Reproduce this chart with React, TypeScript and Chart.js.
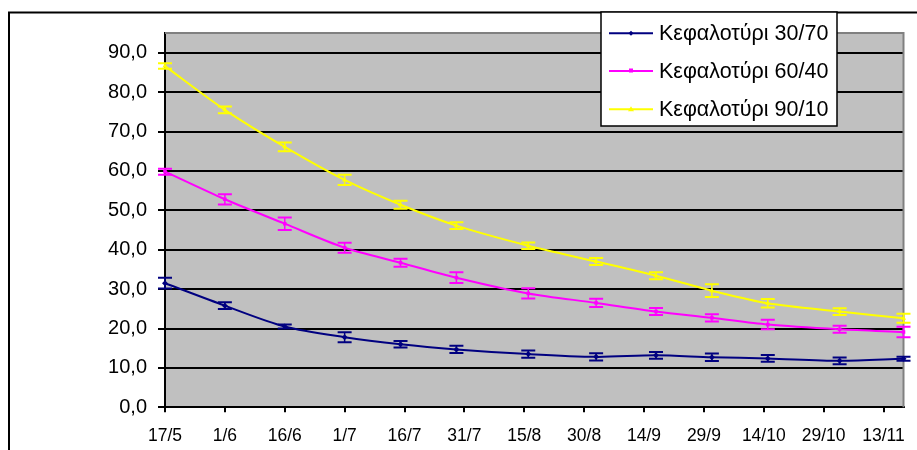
import React, { useEffect, useRef } from "react";
import { Chart, registerables } from "chart.js";

Chart.register(...registerables);

// ---- data ----
const seriesNames = ["Κεφαλοτύρι 30/70", "Κεφαλοτύρι 60/40", "Κεφαλοτύρι 90/10"];
// days elapsed since 17/5 for each sample
const sampleDays = [0, 15, 30, 45, 59, 73, 91, 108, 123, 137, 151, 169, 185];
const tickDays = [0, 15, 30, 45, 60, 75, 90, 105, 120, 135, 150, 165, 180];
const tickLabels = ["17/5", "1/6", "16/6", "1/7", "16/7", "31/7", "15/8", "30/8", "14/9", "29/9", "14/10", "29/10", "13/11"];
const yTickValues = [0, 10, 20, 30, 40, 50, 60, 70, 80, 90];

const values3070 = [31.5, 25.8, 20.5, 17.8, 16.0, 14.7, 13.5, 12.8, 13.2, 12.7, 12.4, 11.8, 12.3];
const values6040 = [59.8, 52.8, 46.6, 40.5, 36.7, 32.9, 28.9, 26.5, 24.3, 22.7, 21.0, 19.8, 19.1];
const values9010 = [86.6, 75.5, 66.1, 57.7, 51.4, 46.1, 41.0, 37.0, 33.4, 29.6, 26.4, 24.3, 22.6];

const err3070 = [1.35, 0.85, 0.5, 1.27, 0.85, 0.9, 0.9, 0.9, 0.85, 0.93, 0.85, 0.85, 0.5];
const err6040 = [0.75, 1.3, 1.6, 1.27, 1.0, 1.35, 1.3, 1.05, 0.9, 0.9, 1.2, 0.9, 1.35];
const err9010 = [0.7, 0.85, 1.1, 1.3, 1.0, 0.85, 0.8, 0.9, 0.9, 1.6, 1.1, 0.85, 1.15];

const colors = ["#000080", "#FF00FF", "#FFFF00"];
const pointStyles = ["rectRot", "rect", "triangle"];
const allValues = [values3070, values6040, values9010];
const allErrors = [err3070, err6040, err9010];

const FONT = "'Liberation Sans', Arial, sans-serif";

const errorBarPlugin = {
  id: "errorBars",
  afterDatasetsDraw(chart: any) {
    const ctx = chart.ctx;
    const yScale = chart.scales.y;
    chart.data.datasets.forEach((ds: any, i: number) => {
      const meta = chart.getDatasetMeta(i);
      const errs = allErrors[i];
      ctx.save();
      ctx.strokeStyle = ds.borderColor;
      meta.data.forEach((pt: any, j: number) => {
        const v = ds.data[j].y;
        const e = errs[j];
        const x = pt.x;
        const yt = yScale.getPixelForValue(v + e);
        const yb = yScale.getPixelForValue(v - e);
        ctx.lineWidth = 1.5;
        ctx.beginPath();
        ctx.moveTo(x, yt);
        ctx.lineTo(x, yb);
        ctx.stroke();
        ctx.lineWidth = 2;
        ctx.beginPath();
        ctx.moveTo(x - 7, yt);
        ctx.lineTo(x + 7, yt);
        ctx.moveTo(x - 7, yb);
        ctx.lineTo(x + 7, yb);
        ctx.stroke();
      });
      ctx.restore();
    });
  },
};

const backgroundPlugin = {
  id: "plotBackground",
  beforeDraw(chart: any) {
    const { ctx, chartArea: a } = chart;
    ctx.save();
    ctx.fillStyle = "#ffffff";
    ctx.fillRect(0, 0, chart.width, chart.height);
    ctx.fillStyle = "#C0C0C0";
    ctx.fillRect(a.left, a.top, a.right - a.left, a.bottom - a.top);
    ctx.restore();
  },
  beforeDatasetsDraw(chart: any) {
    const { ctx, chartArea: a } = chart;
    ctx.save();
    ctx.strokeStyle = "#808080";
    ctx.lineWidth = 2;
    ctx.beginPath();
    ctx.moveTo(a.left, a.top);
    ctx.lineTo(a.right, a.top);
    ctx.lineTo(a.right, a.bottom);
    ctx.stroke();
    ctx.restore();
  },
  afterDraw(chart: any) {
    const ctx = chart.ctx;
    ctx.save();
    // outer chart border
    ctx.strokeStyle = "#000";
    ctx.lineWidth = 2;
    ctx.beginPath();
    ctx.moveTo(9, chart.height + 2);
    ctx.lineTo(9, 12.5);
    ctx.lineTo(chart.width + 2, 12.5);
    ctx.stroke();

    // legend
    const lx = 601, ly = 12, lw = 236, lh = 114;
    ctx.fillStyle = "#fff";
    ctx.fillRect(lx, ly, lw, lh);
    ctx.lineWidth = 1.5;
    ctx.strokeStyle = "#000";
    ctx.strokeRect(lx, ly, lw, lh);
    const rows = [33.3, 71, 109.3];
    chart.data.datasets.forEach((ds: any, i: number) => {
      const y = rows[i];
      ctx.strokeStyle = ds.borderColor;
      ctx.lineWidth = 2;
      ctx.beginPath();
      ctx.moveTo(609, y);
      ctx.lineTo(653, y);
      ctx.stroke();
      ctx.fillStyle = ds.borderColor;
      if (i === 0) {
        ctx.beginPath();
        ctx.moveTo(631, y - 2.5);
        ctx.lineTo(633.5, y);
        ctx.lineTo(631, y + 2.5);
        ctx.lineTo(628.5, y);
        ctx.closePath();
        ctx.fill();
      } else if (i === 1) {
        ctx.fillRect(629, y - 2.5, 4, 4);
      } else {
        ctx.beginPath();
        ctx.moveTo(631, y - 3);
        ctx.lineTo(634, y + 2);
        ctx.lineTo(628, y + 2);
        ctx.closePath();
        ctx.fill();
      }
      ctx.fillStyle = "#000";
      ctx.font = `21.5px ${FONT}`;
      ctx.textBaseline = "middle";
      ctx.textAlign = "left";
      ctx.fillText(ds.label, 659, y + 1);
    });
    ctx.restore();
  },
};

export default function App() {
  const canvasRef = useRef<HTMLCanvasElement | null>(null);

  useEffect(() => {
    const canvas = canvasRef.current;
    if (!canvas) return;
    const datasets = seriesNames.map((name, i) => ({
      label: name,
      data: sampleDays.map((d, j) => ({ x: d, y: allValues[i][j] })),
      borderColor: colors[i],
      backgroundColor: colors[i],
      borderWidth: 2,
      pointStyle: pointStyles[i] as any,
      pointRadius: i === 1 ? 2.5 : 3,
      pointBorderWidth: 0,
      tension: 0.3,
      fill: false,
      clip: false as any,
    }));

    const chart = new Chart(canvas, {
      type: "line",
      data: { datasets },
      plugins: [backgroundPlugin, errorBarPlugin],
      options: {
        animation: false,
        responsive: false,
        devicePixelRatio: 1,
        layout: { padding: { top: 33, right: 13.5, left: 0, bottom: 0 } },
        plugins: {
          legend: { display: false },
          tooltip: { enabled: false },
        },
        scales: {
          x: {
            type: "linear",
            min: 0,
            max: 185,
            afterBuildTicks: (scale: any) => {
              scale.ticks = tickDays.map((v) => ({ value: v }));
            },
            afterFit: (scale: any) => {
              scale.height = 42.7;
              scale.paddingLeft = 0;
              scale.paddingRight = 0;
            },
            grid: {
              drawOnChartArea: false,
              drawTicks: true,
              tickLength: 5,
              color: "#000",
              lineWidth: 2,
            },
            border: { display: true, color: "#000", width: 2 },
            ticks: {
              autoSkip: false,
              maxRotation: 0,
              minRotation: 0,
              padding: 13,
              color: "#000",
              font: { family: FONT, size: 17.5 },
              callback: (value: any) => {
                const idx = tickDays.indexOf(Number(value));
                return idx >= 0 ? tickLabels[idx] : "";
              },
            },
          },
          y: {
            type: "linear",
            min: 0,
            max: 95,
            afterBuildTicks: (scale: any) => {
              scale.ticks = yTickValues.map((v) => ({ value: v }));
            },
            afterFit: (scale: any) => {
              scale.width = 165;
            },
            grid: {
              drawTicks: true,
              tickLength: 7,
              color: "#000",
              lineWidth: 2,
            },
            border: { display: true, color: "#000", width: 2 },
            ticks: {
              padding: 11,
              color: "#000",
              font: { family: FONT, size: 20 },
              callback: (value: any) => Number(value).toFixed(1).replace(".", ","),
            },
          },
        },
      },
    });
    return () => chart.destroy();
  }, []);

  return (
    <div style={{ position: "fixed", left: 0, top: 0, width: 917, height: 450, background: "#fff" }}>
      <canvas ref={canvasRef} width={917} height={450} style={{ display: "block" }} />
    </div>
  );
}
